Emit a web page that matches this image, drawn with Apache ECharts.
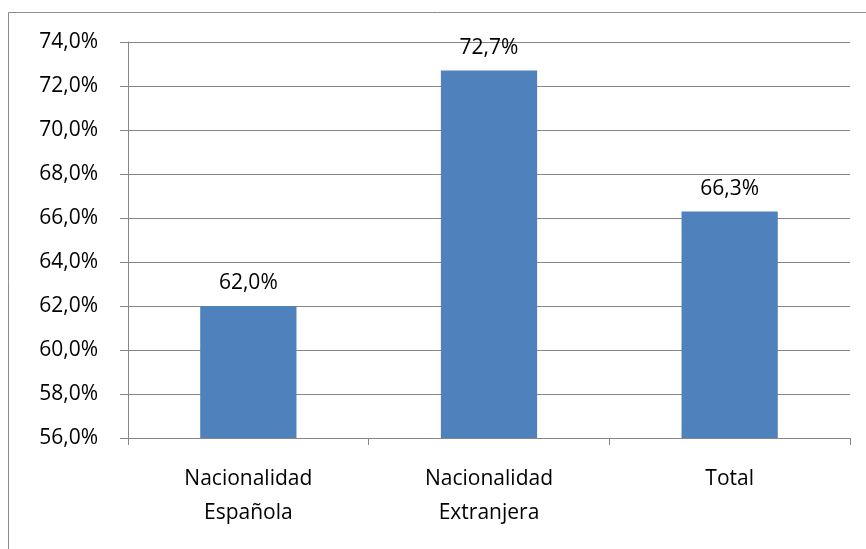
<!DOCTYPE html>
<html>
<head>
<meta charset="utf-8">
<script src="https://cdn.jsdelivr.net/npm/echarts@6/dist/echarts.min.js"></script>
<style>
  html, body { margin: 0; padding: 0; background: #fff; }
  #chart { width: 866px; height: 549px; }
</style>
</head>
<body>
<div id="chart"></div>
<script>
const categories = ["Nacionalidad\nEspañola", "Nacionalidad\nExtranjera", "Total"];
const values = [62.0, 72.7, 66.3];
const yMin = 56;
const yMax = 74;
const yStep = 2;

const fmt = (v) => v.toFixed(1).replace(".", ",") + "%";
const font = "'Open Sans', sans-serif";

const chart = echarts.init(document.getElementById("chart"));

const option = {
  animation: false,
  backgroundColor: "#fff",
  graphic: [
    {
      type: "rect",
      shape: { x: 8.5, y: 12.5, width: 870, height: 560 },
      style: { fill: "none", stroke: "#8c8c8c", lineWidth: 1 },
      silent: true,
    },
  ],
  grid: { left: 128, right: 16, top: 42, bottom: 111 },
  xAxis: {
    type: "category",
    data: categories,
    axisLine: { lineStyle: { color: "#868686", width: 1 } },
    axisTick: { show: true, length: 7, lineStyle: { color: "#868686" } },
    axisLabel: {
      color: "#000",
      fontSize: 21,
      fontFamily: font,
      margin: 24,
      lineHeight: 34,
    },
  },
  yAxis: {
    type: "value",
    min: yMin,
    max: yMax,
    interval: yStep,
    axisLine: { show: true, lineStyle: { color: "#868686", width: 1 } },
    axisTick: { show: true, length: 8, lineStyle: { color: "#868686" } },
    splitLine: { lineStyle: { color: "#868686", width: 1 } },
    axisLabel: {
      color: "#000",
      fontSize: 21,
      fontFamily: font,
      margin: 30,
      formatter: fmt,
    },
  },
  series: [
    {
      type: "bar",
      data: values,
      barWidth: "40%",
      itemStyle: { color: "#4F81BD" },
      label: {
        show: true,
        position: "top",
        distance: 12,
        color: "#000",
        fontSize: 21,
        fontFamily: font,
        formatter: (p) => fmt(p.value),
      },
    },
  ],
};

chart.setOption(option);
</script>
</body>
</html>
